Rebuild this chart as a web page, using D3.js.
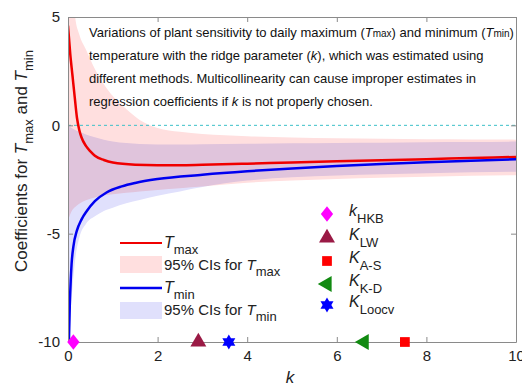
<!DOCTYPE html>
<html>
<head>
<meta charset="utf-8">
<script src="https://cdn.jsdelivr.net/npm/d3@7"></script>
<style>
  body { margin: 0; background: #fff; }
  svg { font-family: "Liberation Sans", Arial, sans-serif; }
</style>
</head>
<body>
<div id="content"></div>
<script>
// ridge parameter grid and coefficient curves
var kMax = [0, 0.05, 0.1, 0.15, 0.2, 0.25, 0.3, 0.4, 0.5, 0.6, 0.8, 1, 1.5, 2, 2.5, 3, 4, 5, 6, 7, 8, 9, 10];
var tMax = [4.6, 3.3, 2.3, 1.3, 0.35, -0.2, -0.55, -0.95, -1.2, -1.4, -1.6, -1.72, -1.82, -1.84, -1.84, -1.82, -1.77, -1.71, -1.66, -1.61, -1.56, -1.51, -1.46];

var kMin = [0, 0.02, 0.04, 0.06, 0.08, 0.12, 0.2, 0.3, 0.42, 0.6, 0.86, 1.2, 1.5, 2, 3, 4, 5, 6, 7, 8, 9, 10];
var tMin = [-11, -10, -8.3, -7.2, -6.4, -5.6, -4.85, -4.35, -3.95, -3.5, -3.1, -2.82, -2.66, -2.48, -2.28, -2.12, -1.99, -1.88, -1.78, -1.7, -1.63, -1.57];

// 95% confidence bands
var kCI = [0, 0.05, 0.1, 0.16, 0.25, 0.4, 0.6, 0.8, 1, 1.3, 1.6, 2, 2.5, 3, 4, 5, 6, 7, 8, 9, 10];
var maxUpper = [14, 9, 6.5, 5.0, 4.2, 3.5, 2.6, 1.9, 1.35, 0.75, 0.25, -0.12, -0.3, -0.4, -0.5, -0.56, -0.6, -0.62, -0.64, -0.65, -0.66];
var maxLower = [-4.4, -4.1, -3.9, -3.77, -3.62, -3.46, -3.33, -3.23, -3.18, -3.11, -3.05, -2.98, -2.9, -2.82, -2.65, -2.55, -2.48, -2.42, -2.37, -2.33, -2.3];
var minUpper = [0, -0.08, -0.15, -0.22, -0.3, -0.42, -0.55, -0.67, -0.75, -0.82, -0.86, -0.88, -0.88, -0.87, -0.85, -0.83, -0.81, -0.8, -0.78, -0.77, -0.75];
var minLower = [-14, -9, -7.5, -6.2, -5.2, -4.55, -4.2, -3.95, -3.8, -3.6, -3.45, -3.25, -3.05, -2.85, -2.55, -2.4, -2.32, -2.26, -2.21, -2.17, -2.14];

// ridge parameter estimates
var estNames = ['HKB', 'LW', 'A-S', 'K-D', 'Loocv'];
var estLetter = ['k', 'K', 'K', 'K', 'K'];
var estK = [0.12, 2.91, 7.52, 6.61, 3.59];

var xTicks = [0, 2, 4, 6, 8, 10];
var yTicks = [5, 0, -5, -10];

var W = 522, H = 387;
var svg = d3.select('#content').append('svg')
    .attr('width', W)
    .attr('height', H);

var x = d3.scaleLinear().domain([0, 10]).range([68, 516]);
var y = d3.scaleLinear().domain([-10, 5]).range([342, 17]);

svg.append('clipPath').attr('id', 'plot')
  .append('rect')
    .attr('x', x(0)).attr('y', y(5))
    .attr('width', x(10) - x(0)).attr('height', y(-10) - y(5));

var plot = svg.append('g').attr('clip-path', 'url(#plot)');

function band(lo, hi) {
    var pts = kCI.map(function(k, i) { return [k, lo[i], hi[i]]; });
    return d3.area()
        .x(function(d) { return x(d[0]); })
        .y0(function(d) { return y(d[1]); })
        .y1(function(d) { return y(d[2]); })
        .curve(d3.curveMonotoneX)(pts);
}

var bands = plot.append('g').style('isolation', 'isolate');
bands.append('path')
    .attr('d', band(maxLower, maxUpper))
    .attr('fill', '#ffdfdf');
bands.append('path')
    .attr('d', band(minLower, minUpper))
    .attr('fill', '#e0e0fc')
    .style('mix-blend-mode', 'multiply');

// zero line
plot.append('line')
    .attr('x1', x(0)).attr('x2', x(10))
    .attr('y1', y(0)).attr('y2', y(0))
    .attr('stroke', '#3cc0c8')
    .attr('stroke-width', 1)
    .attr('stroke-dasharray', '3,3');

var line = d3.line()
    .x(function(d) { return x(d[0]); })
    .y(function(d) { return y(d[1]); })
    .curve(d3.curveMonotoneX);

plot.append('path')
    .attr('d', line(kMax.map(function(k, i) { return [k, tMax[i]]; })))
    .attr('fill', 'none').attr('stroke', '#f00000').attr('stroke-width', 2.5);
plot.append('path')
    .attr('d', line(kMin.map(function(k, i) { return [k, tMin[i]]; })))
    .attr('fill', 'none').attr('stroke', '#0000f0').attr('stroke-width', 2.5);

// axes, MATLAB style box with inward ticks
var axisColor = '#8a8a8a';
function styleAxis(g) {
    g.selectAll('.domain').attr('stroke', axisColor);
    g.selectAll('.tick line').attr('stroke', axisColor);
    g.selectAll('.tick text').attr('fill', '#222').style('font-size', '15px');
}
svg.append('g').attr('transform', 'translate(0,' + y(-10) + ')')
    .call(d3.axisBottom(x).tickValues(xTicks).tickSizeInner(-5).tickSizeOuter(0).tickPadding(8))
    .call(styleAxis);
svg.append('g').attr('transform', 'translate(0,' + y(5) + ')')
    .call(d3.axisTop(x).tickValues(xTicks).tickSizeInner(-5).tickSizeOuter(0).tickFormat(''))
    .call(styleAxis);
svg.append('g').attr('transform', 'translate(' + x(0) + ',0)')
    .call(d3.axisLeft(y).tickValues(yTicks).tickSizeInner(-5).tickSizeOuter(0).tickPadding(8)
        .tickFormat(function(d) { return d < 0 ? '-' + Math.abs(d) : d; }))
    .call(styleAxis);
svg.append('g').attr('transform', 'translate(' + x(10) + ',0)')
    .call(d3.axisRight(y).tickValues(yTicks).tickSizeInner(-5).tickSizeOuter(0).tickFormat(''))
    .call(styleAxis);

// markers for the estimated k values
var symbols = [
    { type: d3.symbolDiamond2, size: 150, fill: '#ff00ff', rot: 0, sx: 0.8 },
    { type: d3.symbolTriangle, size: 110, fill: '#9a1a45', rot: 0, sx: 1 },
    { type: d3.symbolSquare, size: 95, fill: '#ff0000', rot: 0, sx: 1 },
    { type: d3.symbolTriangle, size: 110, fill: '#118a11', rot: -90, sx: 1 },
    { type: null, size: 0, fill: '#0000ff', rot: 0, sx: 1 }
];
function hexagram(r) {
    var p = [];
    for (var i = 0; i < 12; i++) {
        var a = -Math.PI / 2 + i * Math.PI / 6;
        var rr = i % 2 === 0 ? r : r * 0.58;
        p.push([rr * Math.cos(a), rr * Math.sin(a)]);
    }
    return 'M' + p.join('L') + 'Z';
}
function drawMarker(g, i, cx, cy) {
    var s = symbols[i];
    var d = s.type ? d3.symbol().type(s.type).size(s.size)() : hexagram(7.5);
    g.append('path')
        .attr('d', d)
        .attr('fill', s.fill)
        .attr('transform', 'translate(' + cx + ',' + cy + ') rotate(' + s.rot + ') scale(' + s.sx + ',1)');
}
var marks = svg.append('g');
estK.forEach(function(k, i) { drawMarker(marks, i, x(k), y(-10)); });

// legend for the estimates
var legY = [214, 238, 261, 284, 305];
estNames.forEach(function(n, i) {
    drawMarker(svg, i, 327, legY[i]);
    var t = svg.append('text').attr('x', 349).attr('y', legY[i] + 2)
        .style('font-size', '16px').attr('fill', '#222');
    t.append('tspan').style('font-style', 'italic').text(estLetter[i]);
    t.append('tspan').attr('dy', 7).style('font-size', '13px').text(n);
});

// legend for curves and bands
function tSub(t, sub, size, subSize, dy) {
    t.append('tspan').style('font-style', 'italic').style('font-size', size).text('T');
    t.append('tspan').attr('dy', dy).style('font-size', subSize).text(sub);
}
var leg = svg.append('g');
leg.append('line').attr('x1', 120).attr('x2', 162).attr('y1', 243).attr('y2', 243)
    .attr('stroke', '#f00000').attr('stroke-width', 2);
tSub(leg.append('text').attr('x', 164).attr('y', 248).attr('fill', '#222'), 'max', '16px', '13px', 6);
leg.append('rect').attr('x', 120).attr('y', 256).attr('width', 42).attr('height', 17).attr('fill', '#ffdfdf');
var t1 = leg.append('text').attr('x', 164).attr('y', 270).attr('fill', '#222').style('font-size', '15px');
t1.append('tspan').text('95% CIs for ');
tSub(t1, 'max', '15px', '13px', 6);
leg.append('line').attr('x1', 120).attr('x2', 162).attr('y1', 288).attr('y2', 288)
    .attr('stroke', '#0000f0').attr('stroke-width', 2.5);
tSub(leg.append('text').attr('x', 164).attr('y', 293).attr('fill', '#222'), 'min', '16px', '13px', 6);
leg.append('rect').attr('x', 120).attr('y', 302).attr('width', 42).attr('height', 17).attr('fill', '#e0e0fc');
var t2 = leg.append('text').attr('x', 164).attr('y', 315).attr('fill', '#222').style('font-size', '15px');
t2.append('tspan').text('95% CIs for ');
tSub(t2, 'min', '15px', '13px', 6);

// annotation
var note = svg.append('g').style('font-size', '13px').attr('fill', '#111');
var n1 = note.append('text').attr('x', 89).attr('y', 36.5);
n1.append('tspan').text('Variations of plant sensitivity to daily maximum (');
n1.append('tspan').style('font-style', 'italic').text('T');
n1.append('tspan').style('font-size', '10px').text('max');
n1.append('tspan').text(') and minimum (');
n1.append('tspan').style('font-style', 'italic').text('T');
n1.append('tspan').style('font-size', '10px').text('min');
n1.append('tspan').text(')');
var n2 = note.append('text').attr('x', 89).attr('y', 59.5);
n2.append('tspan').text('temperature with the ridge parameter (');
n2.append('tspan').style('font-style', 'italic').text('k');
n2.append('tspan').text('), which was estimated using');
note.append('text').attr('x', 89).attr('y', 82.5)
    .text('different methods. Multicollinearity can cause improper estimates in');
var n4 = note.append('text').attr('x', 89).attr('y', 105.5);
n4.append('tspan').text('regression coefficients if ');
n4.append('tspan').style('font-style', 'italic').text('k');
n4.append('tspan').text(' is not properly chosen.');

// axis titles
svg.append('text').attr('x', 290).attr('y', 383)
    .attr('text-anchor', 'middle').style('font-size', '17px').style('font-style', 'italic')
    .attr('fill', '#222').text('k');
var yl = svg.append('text')
    .attr('transform', 'translate(27,161) rotate(-90)')
    .attr('text-anchor', 'middle').style('font-size', '17px').attr('fill', '#222');
yl.append('tspan').text('Coefficients for ');
yl.append('tspan').style('font-style', 'italic').text('T');
yl.append('tspan').attr('dy', 6).style('font-size', '13px').text('max');
yl.append('tspan').attr('dy', -6).text(' and ');
yl.append('tspan').style('font-style', 'italic').text('T');
yl.append('tspan').attr('dy', 6).style('font-size', '13px').text('min');
</script>
</body>
</html>
